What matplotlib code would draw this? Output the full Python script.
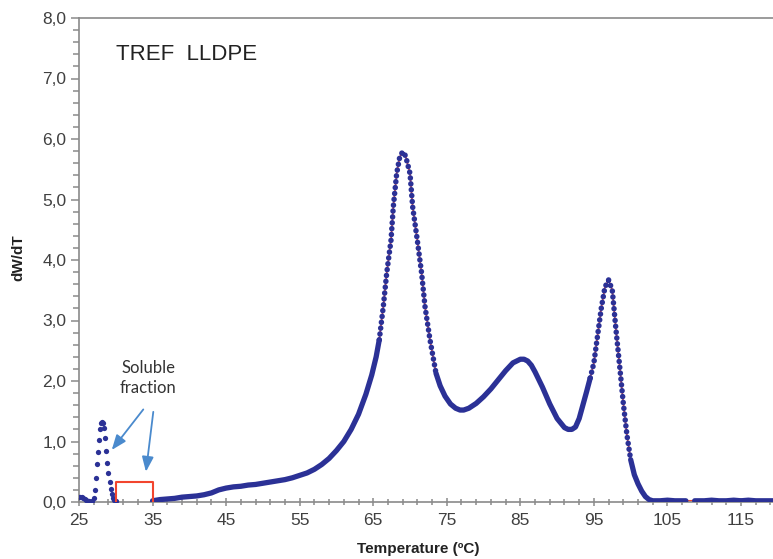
import numpy as np
import matplotlib
matplotlib.use("Agg")
import matplotlib.pyplot as plt

# ---- data ----
sol_T = [25.0, 25.2, 25.4, 25.6, 25.8, 26.0, 26.2, 26.4, 26.6, 26.8, 27.0, 27.15, 27.3,
         27.45, 27.6, 27.75, 27.9, 28.0, 28.1, 28.25, 28.4, 28.55, 28.7, 28.85, 29.0,
         29.15, 29.3, 29.45, 29.6, 29.8, 30.0]
sol_W = [0.08, 0.09, 0.08, 0.07, 0.05, 0.03, 0.02, 0.01, 0.0, 0.02, 0.07, 0.2, 0.4,
         0.62, 0.82, 1.02, 1.2, 1.3, 1.33, 1.3, 1.22, 1.05, 0.85, 0.65, 0.48,
         0.33, 0.22, 0.13, 0.07, 0.03, 0.01]

main_T = [35.0, 35.5, 36, 37, 38, 39, 40, 41, 42, 43, 44, 45, 46, 47, 48, 49, 50, 51, 52,
          53, 54, 55, 56, 57, 58, 59, 60, 61, 62, 63, 64, 64.8, 65.4, 65.82, 66.37, 66.83,
          67.42, 67.73, 68.19, 68.6, 69.0, 69.4, 70.0, 70.36, 70.99, 71.58, 72.04, 72.72,
          73.53, 74.1, 74.76, 75.5, 76.2, 76.8, 77.3, 78, 79, 80, 81, 82, 83, 84, 85, 85.5,
          86, 86.5, 87, 88, 89, 90, 91, 91.5, 92, 92.5, 93, 93.5, 94, 94.5, 95, 95.5, 96,
          96.5, 97, 97.5, 98, 98.5, 99, 99.5, 100, 100.5, 101, 101.5, 102, 102.5, 103, 104,
          105, 106, 107, 107.5, 108.7, 110, 111, 112, 113, 114, 115, 116, 117, 118, 119.5]
main_W = [0.02, 0.03, 0.04, 0.05, 0.06, 0.08, 0.09, 0.10, 0.12, 0.15, 0.20, 0.23, 0.25,
          0.26, 0.28, 0.29, 0.31, 0.33, 0.35, 0.37, 0.40, 0.44, 0.48, 0.54, 0.62, 0.72,
          0.85, 1.0, 1.2, 1.45, 1.78, 2.1, 2.4, 2.68, 3.23, 3.78, 4.33, 4.88, 5.43, 5.7,
          5.79, 5.72, 5.43, 4.88, 4.33, 3.78, 3.23, 2.68, 2.13, 1.92, 1.75, 1.62, 1.55,
          1.52, 1.52, 1.55, 1.63, 1.74, 1.87, 2.02, 2.17, 2.30, 2.36, 2.36, 2.33, 2.26,
          2.15, 1.90, 1.62, 1.38, 1.23, 1.20, 1.20, 1.24, 1.38, 1.6, 1.82, 2.05, 2.3,
          2.75, 3.2, 3.55, 3.67, 3.5, 2.85, 2.25, 1.63, 1.1, 0.7, 0.45, 0.3, 0.18, 0.09,
          0.04, 0.02, 0.02, 0.03, 0.02, 0.02, 0.02, 0.02, 0.02, 0.03, 0.02, 0.02, 0.03,
          0.02, 0.03, 0.02, 0.02, 0.02]

box_T = [30.0, 30.0, 35.0, 35.0]
box_W = [0.0, 0.33, 0.33, 0.0]

x_ticks = [25, 35, 45, 55, 65, 75, 85, 95, 105, 115]
y_ticks = [0, 1, 2, 3, 4, 5, 6, 7, 8]
y_labels = ["0,0", "1,0", "2,0", "3,0", "4,0", "5,0", "6,0", "7,0", "8,0"]

# ---- figure ----
plt.rcParams['font.family'] = ['Liberation Sans', 'DejaVu Sans']
fig = plt.figure(figsize=(7.73, 5.59), dpi=100)
ax = fig.add_axes([79/773, 1 - 502/559, 1 - 79/773, (502 - 18)/559])

BLUE = '#2B3196'
RED = '#F2452E'

mT = np.array(main_T, dtype=float)
mW = np.array(main_W, dtype=float)

# red fit line beneath
ax.plot(mT, mW, color=RED, lw=1.2, zorder=2)

steep = ((mT >= 65.8) & (mT <= 73.6)) | ((mT >= 94.5) & (mT <= 100.0))
solid_W = np.where(steep, np.nan, mW)
for i in range(1, len(mT)):
    if steep[i] and not steep[i - 1]:
        solid_W[i] = mW[i]
    if not steep[i] and steep[i - 1]:
        solid_W[i - 1] = mW[i - 1]
gT = []
gW = []
for i in range(len(mT)):
    gT.append(mT[i]); gW.append(solid_W[i])
    if mT[i] == 107.5:
        gT.append(np.nan); gW.append(np.nan)
ax.plot(gT, gW, color=BLUE, lw=3.8, solid_capstyle='round', zorder=3)

steep_W = np.where(steep, mW, np.nan)
ax.plot(mT, steep_W, color=BLUE, lw=4.0, linestyle=(0, (0.01, 1.05)),
        dash_capstyle='round', zorder=3)

# soluble fraction peak (sparse dots)
ax.plot(sol_T, sol_W, 'o', color=BLUE, ms=3.8, mec='none', zorder=3)

# red box
ax.plot(box_T, box_W, color=RED, lw=1.5, zorder=3)

# annotations
ax.text(30.0, 7.39, "TREF  LLDPE", fontsize=16, color='#222222', va='center', ha='left')
ax.text(34.4, 2.05, "Soluble\nfraction", fontsize=12, color='#333333', ha='center',
        va='center', family=['Lato', 'DejaVu Sans'], linespacing=1.25)
arrow_kw = dict(arrowstyle='-|>,head_length=0.9,head_width=0.35', color='#4A8ACD', lw=1.3,
                shrinkA=0, shrinkB=0)
ax.annotate("", xy=(29.45, 0.86), xytext=(33.74, 1.53), arrowprops=arrow_kw)
ax.annotate("", xy=(34.1, 0.50), xytext=(35.1, 1.49), arrowprops=arrow_kw)

# axes styling
ax.set_xlim(25, 119.35)
ax.set_ylim(0, 8)
ax.set_xticks(x_ticks)
ax.set_xticks(np.arange(25, 120, 2), minor=True)
ax.set_yticks(y_ticks)
ax.set_yticklabels(y_labels)
ax.set_yticks(np.arange(0, 8.01, 0.2), minor=True)

SP = '#8A8A8A'
for s in ['left', 'top', 'bottom']:
    ax.spines[s].set_color(SP)
    ax.spines[s].set_linewidth(1.2)
ax.spines['right'].set_visible(False)

ax.tick_params(axis='y', which='both', direction='out', color=SP, width=1.1,
               labelsize=12.5, labelcolor='#404040', pad=3)
ax.tick_params(axis='y', which='major', length=6)
ax.tick_params(axis='y', which='minor', length=4)
ax.tick_params(axis='x', which='both', direction='inout', color=SP, width=1.1,
               labelsize=12.5, labelcolor='#404040', pad=5)
ax.tick_params(axis='x', which='major', length=6)
ax.tick_params(axis='x', which='minor', length=5)

fig.text(418/773, 1 - 549/559, "Temperature (ºC)", fontsize=11, fontweight='bold',
         color='#222222', ha='center', va='center')
fig.text(18/773, 1 - 258/559, "dW/dT", fontsize=11, fontweight='bold', color='#222222',
         ha='center', va='center', rotation=90)

fig.savefig("out.png", dpi=100)
